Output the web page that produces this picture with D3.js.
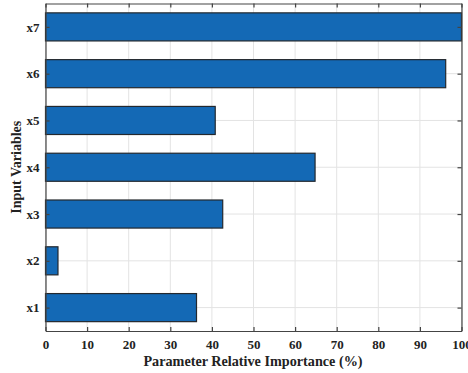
<!DOCTYPE html>
<html>
<head>
<meta charset="utf-8">
<script src="https://cdn.jsdelivr.net/npm/d3@7"></script>
<style>
  html, body { margin: 0; padding: 0; background: #fff; }
  svg { display: block; }
  text { font-family: "Liberation Serif", "Times New Roman", serif; font-weight: bold; fill: #222; }
</style>
</head>
<body>
<svg id="chart" width="468" height="373"></svg>
<script>
// Relative importance of each input variable (%)
const categories = ["x1", "x2", "x3", "x4", "x5", "x6", "x7"];
const importance = [36.3, 3.0, 42.6, 64.8, 40.8, 96.2, 100];
const xTicks = [0, 10, 20, 30, 40, 50, 60, 70, 80, 90, 100];
const xLabel = "Parameter Relative Importance (%)";
const yLabel = "Input Variables";

const svg = d3.select("#chart");
const m = { left: 45.5, right: 461.5, top: 3.5, bottom: 331 };

const x = d3.scaleLinear().domain([0, 100]).range([m.left, m.right]);
const y = d3.scaleLinear().domain([0.5, categories.length + 0.5]).range([m.bottom, m.top]);
const barH = (y(0) - y(0.6));

// grid lines
const g = svg.append("g");
g.selectAll("line.vg").data(xTicks).join("line")
  .attr("x1", d => x(d)).attr("x2", d => x(d))
  .attr("y1", m.top).attr("y2", m.bottom)
  .attr("stroke", "#e3e3e3").attr("stroke-width", 1);
g.selectAll("line.hg").data(categories).join("line")
  .attr("x1", m.left).attr("x2", m.right)
  .attr("y1", (d, i) => y(i + 1)).attr("y2", (d, i) => y(i + 1))
  .attr("stroke", "#e3e3e3").attr("stroke-width", 1);

// bars
svg.append("g").selectAll("rect").data(importance).join("rect")
  .attr("x", x(0))
  .attr("y", (d, i) => y(i + 1) - barH / 2)
  .attr("width", d => x(d) - x(0))
  .attr("height", barH)
  .attr("fill", "#1469b5")
  .attr("stroke", "#23282e")
  .attr("stroke-width", 1.2);

// axes box with inward ticks on all four sides
const tickLen = 4;
const bottomAxis = d3.axisBottom(x).tickValues(xTicks).tickSizeInner(-tickLen).tickSizeOuter(0).tickPadding(9);
const topAxis = d3.axisTop(x).tickValues(xTicks).tickSizeInner(-tickLen).tickSizeOuter(0).tickFormat("");
const leftAxis = d3.axisLeft(y).tickValues(d3.range(1, categories.length + 1))
  .tickFormat(d => categories[d - 1]).tickSizeInner(-tickLen).tickSizeOuter(0).tickPadding(6);
const rightAxis = d3.axisRight(y).tickValues(d3.range(1, categories.length + 1))
  .tickFormat("").tickSizeInner(-tickLen).tickSizeOuter(0);

function style(sel) {
  sel.select(".domain").attr("stroke", "#444").attr("stroke-width", 1.2);
  sel.selectAll(".tick line").attr("stroke", "#444").attr("stroke-width", 1.2);
  sel.selectAll(".tick text").attr("font-size", 13).attr("fill", "#222")
    .attr("font-family", "'Liberation Serif', serif").attr("font-weight", "bold");
}
svg.append("g").attr("transform", `translate(0,${m.bottom})`).call(bottomAxis).call(style);
svg.append("g").attr("transform", `translate(0,${m.top})`).call(topAxis).call(style);
svg.append("g").attr("transform", `translate(${m.left},0)`).call(leftAxis).call(style);
svg.append("g").attr("transform", `translate(${m.right},0)`).call(rightAxis).call(style);

// axis titles
svg.append("text")
  .attr("x", 253).attr("y", 366)
  .attr("text-anchor", "middle").attr("font-size", 14.2)
  .text(xLabel);
svg.append("text")
  .attr("transform", `translate(21,${(m.top + m.bottom) / 2}) rotate(-90)`)
  .attr("text-anchor", "middle").attr("font-size", 14)
  .text(yLabel);
</script>
</body>
</html>
